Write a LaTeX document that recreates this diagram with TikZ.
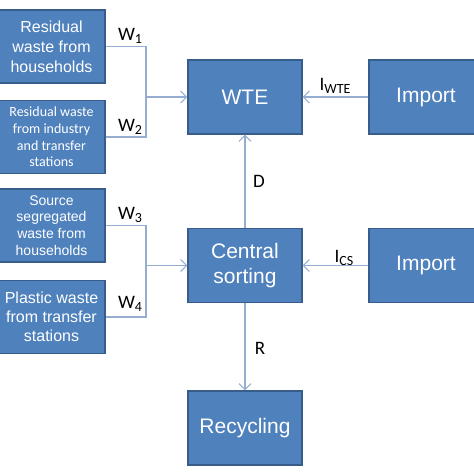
\documentclass[tikz,border=0pt]{standalone}
\usepackage{fontspec}
\setmainfont{Liberation Sans}
\newfontfamily\calibri{Carlito}
\usetikzlibrary{arrows.meta}
\definecolor{boxblue}{HTML}{4F81BD}
\definecolor{boxedge}{HTML}{385D8A}
\definecolor{flowblue}{HTML}{95AECF}
\newcommand\lowidx[1]{\raisebox{-0.35ex}{\fontsize{14}{14}\selectfont#1}}

\begin{document}
\begin{tikzpicture}[x=1pt, y=-1pt,
	box/.style={draw=boxedge, line width=1.2pt, fill=boxblue, text=white, align=center, inner sep=0pt},
	src/.style={box, minimum width=107pt, minimum height=73pt},
	unit/.style={box, minimum width=114pt, minimum height=74pt, font=\fontsize{21}{25}\selectfont},
	flow/.style={draw=flowblue, line width=1.1pt},
	lbl/.style={font=\calibri\fontsize{19}{20}\selectfont, inner sep=0pt}
]
\useasboundingbox (0,0) rectangle (474,474);

%% Sources on the left
\node[src, font=\fontsize{16}{20}\selectfont] (w1) at (51.5,46.5) {Residual\\waste from\\households};
\node[src, font=\calibri\fontsize{14}{16.7}\selectfont] (w2) at (51.5,137) {Residual waste\\from industry\\and transfer\\stations};
\node[src, font=\fontsize{14}{16.7}\selectfont] (w3) at (51.5,225.5) {Source\\segregated\\waste from\\households};
\node[src, font=\fontsize{16}{19}\selectfont] (w4) at (51.5,317) {Plastic waste\\from transfer\\stations};

%% Plants
\node[unit] (wte) at (245,97) {WTE};
\node[unit] (cs) at (245,265.5) {Central\\sorting};
\node[unit] (rec) at (245,428) {Recycling};
\node[unit] (imp1) at (426,97) {Import};
\node[unit] (imp2) at (426,265.5) {Import};

%% Junctions
\coordinate (j1) at (146,97);
\coordinate (j2) at (146,265.5);

%% Flows
\path[flow, arrow/.style={-{Straight Barb[length=6pt,width=12pt]}}]
	(w1.east) edge[to path={-| (\tikztotarget)}] (j1)
	(w2.east) edge[to path={-| (\tikztotarget)}] (j1)
	(j1) edge[arrow] (wte.west)
	(w3.east) edge[to path={-| (\tikztotarget)}] (j2)
	(w4.east) edge[to path={-| (\tikztotarget)}] (j2)
	(j2) edge[arrow] (cs.west)
	(imp1.west) edge[arrow] (wte.east)
	(imp2.west) edge[arrow] (cs.east)
	(cs.north) edge[arrow] (wte.south)
	(cs.south) edge[arrow] (rec.north)
	;

%% Flow labels
\node[lbl] (lw1) at (130,36) {W\lowidx{1}};
\node[lbl] (lw2) at (130,127) {W\lowidx{2}};
\node[lbl] (lw3) at (130,215) {W\lowidx{3}};
\node[lbl] (lw4) at (130,304) {W\lowidx{4}};
\node[lbl] (liw) at (335,86) {I\lowidx{WTE}};
\node[lbl] (lic) at (344,258) {I\lowidx{CS}};
\node[lbl] (ld) at (259,181) {D};
\node[lbl] (lr) at (260,348) {R};

\end{tikzpicture}
\end{document}
